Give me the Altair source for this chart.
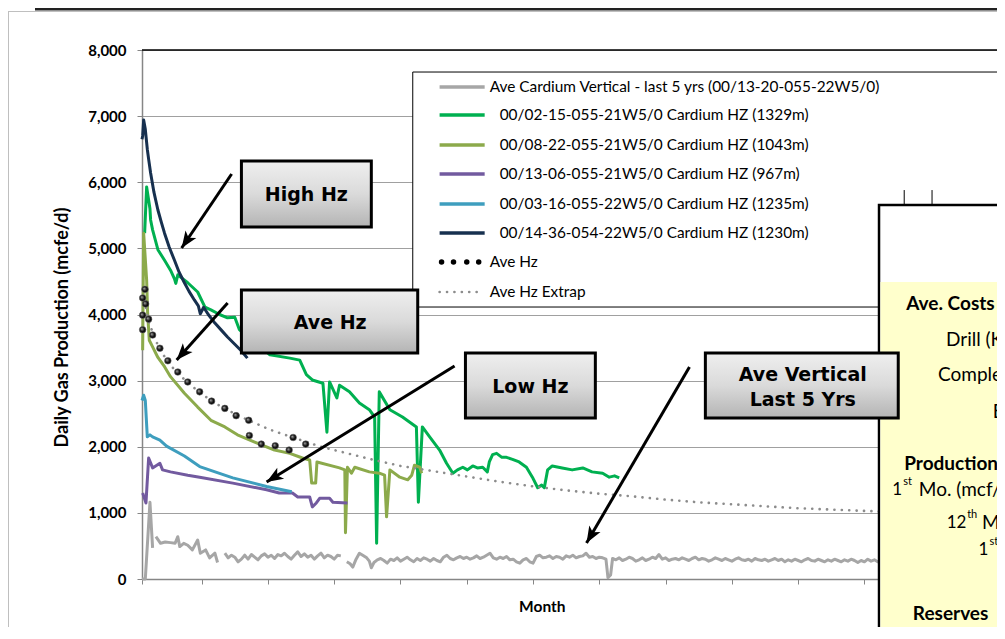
import math
import altair as alt
import pandas as pd

# ---------------- series data (month, mcfe/d) ----------------
gray_s1_m = [1.0, 1.5, 2.2, 2.6]
gray_s1_v = [0, 0, 1160, 470]
gray_s2_m = [3.1, 3.8, 4.5, 5.3, 6.0, 6.4, 6.7, 7.3, 7.9, 8.6, 9.4, 9.8, 10.6, 11.2, 12.0, 12.4]
gray_s2_v = [640, 540, 560, 550, 540, 640, 490, 540, 510, 440, 590, 390, 440, 320, 390, 250]
gray_s3_m = [13.5 + 0.5 * i for i in range(36)]
gray_s3_v = [390, 320, 360, 330, 260, 300, 360, 300, 370, 330,
             290, 350, 380, 330, 360, 310, 370, 350, 390, 340,
             300, 360, 410, 340, 380, 330, 360, 300, 350, 390,
             320, 360, 340, 300, 360, 350]
gray_s4a_m = [31.9, 32.4, 32.8, 33.3, 33.8, 34.3, 34.9, 35.3, 35.6]
gray_s4a_v = [260, 230, 180, 300, 390, 360, 320, 270, 170]
gray_s4b_m = [36.0 + 0.5 * i for i in range(71)]
gray_s4b_v = [250, 290, 310, 280, 240, 300, 280, 320, 270, 300,
              330, 290, 260, 310, 280, 320, 300, 270, 310, 280,
              260, 330, 360, 310, 290, 320, 340, 310, 330, 300,
              320, 350, 310, 330, 360, 390, 320, 300, 330, 310,
              340, 290, 300, 260, 240, 290, 310, 260, 240, 340,
              360, 320, 330, 350, 310, 340, 330, 300, 350, 330,
              360, 320, 340, 350, 390, 330, 340, 310, 330, 320,
              300]
gray_s4c_m = [71.3, 71.7]
gray_s4c_v = [20, 60]
gray_s4d_m = [72.0 + 0.5 * i for i in range(83)]
gray_s4d_v = [310, 290, 320, 280, 300, 330, 310, 270, 290, 320,
              280, 300, 330, 310, 370, 300, 320, 280, 300, 310,
              290, 320, 300, 280, 310, 330, 290, 310, 300, 270,
              290, 320, 300, 280, 310, 290, 270, 300, 320, 290,
              280, 300, 270, 310, 290, 280, 300, 270, 290, 310,
              280, 300, 260, 290, 270, 300, 280, 260, 290, 310,
              280, 270, 300, 280, 260, 290, 270, 300, 280, 260,
              290, 270, 300, 280, 250, 280, 260, 300, 270, 290,
              260, 280, 250]

green_m = [1.4, 1.7, 2.2, 2.3, 2.6, 3.4, 4.4, 5.3, 5.9, 6.1,
           6.4, 7.9, 9.4, 10.5, 11.4, 12.7, 13.9, 15.0, 15.7, 17.0,
           18.5, 20.3, 23.3, 24.8, 25.8, 26.7, 28.3, 28.9, 29.3, 30.4,
           30.8, 32.3, 33.8, 35.3, 36.1, 36.4, 36.8, 38.4, 40.3, 42.4,
           42.7, 43.3, 44.4, 45.9, 46.95, 47.9, 48.6, 49.4, 50.1, 50.9,
           51.6, 52.4, 53.1, 53.4, 53.9, 54.5, 55.3, 56.0, 56.9, 57.9,
           59.0, 59.9, 60.7, 61.3, 61.7, 62.2, 62.9, 64.4, 65.9, 67.5,
           68.9, 70.5, 71.5, 72.3, 73.0]
green_v = [5230, 5930, 5600, 5430, 5280, 4980, 4820, 4670, 4540, 4470,
           4600, 4480, 4340, 4110, 4070, 4000, 3950, 3960, 3770, 3650,
           3550, 3390, 3340, 3310, 3090, 3010, 2960, 2220, 2980, 2740,
           2930, 2830, 2660, 2560, 2450, 540, 2830, 2560, 2450, 2300,
           1160, 2300, 2150, 1950, 1750, 1600, 1650, 1690, 1650, 1710,
           1680, 1690, 1620, 1770, 1880, 1900, 1840, 1840, 1810, 1770,
           1690, 1540, 1380, 1420, 1380, 1650, 1710, 1680, 1650, 1680,
           1620, 1600, 1540, 1560, 1530]

olive_m = [1.1, 1.25, 1.7, 1.85, 2.1, 2.6, 3.4, 4.4, 5.3, 7.4,
           9.4, 11.4, 13.5, 15.4, 18.0, 21.0, 23.3, 25.2, 26.3, 26.6,
           27.2, 27.4, 30.8, 31.6, 31.7, 32.0, 32.6, 33.1, 35.3, 36.8,
           37.6, 37.9, 38.4, 39.9, 41.1, 41.7, 42.1, 42.9, 43.2]
olive_v = [3460, 5230, 4520, 4020, 3610, 3510, 3350, 3210, 3060, 2810,
           2600, 2400, 2300, 2180, 2070, 1950, 1900, 1830, 1800, 1450,
           1450, 1770, 1680, 1650, 700, 1690, 1600, 1690, 1620, 1600,
           1570, 940, 1650, 1540, 1500, 1570, 1720, 1690, 1600]

purple_m = [1.1, 1.6, 2.0, 2.6, 3.7, 4.1, 5.3, 7.9, 9.7, 14.7,
            19.8, 21.7, 23.7, 24.5, 26.3, 26.7, 27.3, 27.8, 29.3, 29.8, 32.0]
purple_v = [1300, 1150, 1830, 1680, 1750, 1650, 1620, 1570, 1540, 1450,
            1350, 1300, 1300, 1240, 1240, 1090, 1150, 1220, 1220, 1160, 1150]

teal_m = [1.0, 1.25, 1.5, 1.8, 2.2, 2.6, 3.7, 4.7, 7.4, 9.7, 14.7, 19.8, 23.6]
teal_v = [2700, 2780, 2700, 2150, 2180, 2150, 2100, 2010, 1860, 1700, 1530, 1400, 1320]

navy_m = [1.0, 1.1, 1.25, 1.5, 1.8, 2.0, 2.3, 2.8, 3.4, 3.9,
          4.4, 5.1, 5.9, 6.6, 7.4, 8.1, 8.9, 9.5, 9.8, 10.3,
          11.0, 12.0, 13.0, 13.9, 15.0, 15.9, 16.9]
navy_v = [6650, 6700, 6940, 6800, 6500, 6350, 6140, 5850, 5580, 5400,
          5230, 5020, 4820, 4640, 4480, 4350, 4220, 4130, 4010, 4110,
          4000, 3870, 3760, 3660, 3550, 3460, 3340]

avehz_m = [1.45, 1.1, 1.55, 1.1, 2.0, 1.1, 2.6, 3.7, 4.9, 6.4, 7.9, 9.7, 11.5,
           13.5, 15.2, 17.1, 17.2, 19.0, 21.1, 23.2, 23.8, 25.7]
avehz_v = [4380, 4250, 4160, 3990, 3930, 3770, 3690, 3490, 3300, 3130, 2980, 2830, 2690,
           2580, 2470, 2400, 2170, 2040, 2015, 1950, 2140, 2040]

extrap_m = [1.6, 2, 3, 4, 5, 6, 8, 10, 12, 14, 16, 18, 20, 22, 25, 28, 32, 36, 40, 45,
            50, 55, 60, 65, 70, 75, 80, 85, 90, 95, 100, 105, 110, 115, 120, 125, 131]
extrap_v = [4100, 3900, 3620, 3420, 3280, 3150, 2960, 2800, 2660, 2550, 2450, 2360, 2270,
            2200, 2100, 2000, 1900, 1800, 1710, 1630, 1550, 1470, 1400, 1340, 1290, 1250,
            1200, 1160, 1130, 1100, 1070, 1050, 1030, 1010, 990, 975, 960]

legend_labels = ["Ave Cardium Vertical - last 5 yrs (00/13-20-055-22W5/0)",
                 "00/02-15-055-21W5/0 Cardium HZ (1329m)",
                 "00/08-22-055-21W5/0 Cardium HZ (1043m)",
                 "00/13-06-055-21W5/0 Cardium HZ (967m)",
                 "00/03-16-055-22W5/0 Cardium HZ (1235m)",
                 "00/14-36-054-22W5/0 Cardium HZ (1230m)",
                 "Ave Hz", "Ave Hz Extrap"]
y_ticks = [0, 1000, 2000, 3000, 4000, 5000, 6000, 7000, 8000]
x_ticks = [1, 10, 20, 30, 40, 50, 60, 70, 80, 90, 100, 110, 120, 130]

# ---------------- styles ----------------
C_GRAY, C_GREEN, C_OLIVE = "#A6A6A6", "#00B050", "#8CAA4B"
C_PURPLE, C_TEAL, C_NAVY = "#725A9F", "#3E9EBE", "#17304F"
FONT = "Lato"
PLOT_W, PLOT_H = 855, 529
X_MAX = 130.0
PX_PER_M, PX_PER_V = PLOT_W / (X_MAX - 1), PLOT_H / 8000

XS = alt.Scale(domain=[1, X_MAX], nice=False, zero=False)
YS = alt.Scale(domain=[0, 8000], nice=False, zero=False)
XAX = alt.Axis(values=x_ticks, labels=False, title=None, grid=False, tickSize=5,
               tickColor="#868686", domainColor="#868686", domainWidth=1.5)
YAX = alt.Axis(values=y_ticks, format=",.0f", title="Daily Gas Production (mcfe/d)",
               titleFont=FONT, titleFontSize=18, titleFontWeight="bold", titleColor="black",
               titleAngle=270, titleX=-80, titleY=277, titleAlign="center", titleBaseline="middle",
               labelFont=FONT, labelFontSize=15, labelFontWeight="bold", labelColor="black",
               labelPadding=11, tickSize=5, tickColor="#868686", domainColor="#868686",
               domainWidth=1.5, grid=True, gridColor="#A0A0A0", gridWidth=1)


def X(f="m"):
    return alt.X(f"{f}:Q", scale=XS, axis=XAX)


def Y(f="v"):
    return alt.Y(f"{f}:Q", scale=YS, axis=YAX)


def line_layer(ms, vs, color, segs=None, width=3, **kw):
    df = pd.DataFrame({"m": ms, "v": vs, "s": segs if segs else [0] * len(ms)})
    return alt.Chart(df).mark_line(color=color, strokeWidth=width, strokeJoin="round", **kw).encode(
        x=X(), y=Y(), detail="s:N")


def rect(m1, m2, v1, v2, **kw):
    df = pd.DataFrame({"m": [m1], "m2": [m2], "v": [v1], "v2": [v2]})
    return alt.Chart(df).mark_rect(**kw).encode(x=X("m"), x2="m2", y=Y("v"), y2="v2")


def seg(m1, v1, m2, v2, **kw):
    df = pd.DataFrame({"m": [m1], "m2": [m2], "v": [v1], "v2": [v2]})
    return alt.Chart(df).mark_rule(**kw).encode(x=X("m"), x2="m2", y=Y("v"), y2="v2")


def label(t, m, v, size, bold=False, align="left", font=FONT):
    df = pd.DataFrame({"m": [m], "v": [v], "t": [t]})
    return alt.Chart(df).mark_text(font=font, fontSize=size, fontWeight="bold" if bold else "normal",
                                   align=align, baseline="middle", color="black").encode(
        x=X(), y=Y(), text="t:N")


one = pd.DataFrame({"a": [0]})
layers = []

# outer frame decorations
layers.append(alt.Chart(one).mark_rect(color="#222222").encode(
    x=alt.value(-107), x2=alt.value(870), y=alt.value(-42), y2=alt.value(-39.5)))
layers.append(alt.Chart(one).mark_rule(color="#BFBFBF", strokeWidth=1).encode(
    x=alt.value(-134), x2=alt.value(870), y=alt.value(-38.5)))
layers.append(alt.Chart(one).mark_rule(color="#BFBFBF", strokeWidth=1).encode(
    x=alt.value(-133.5), y=alt.value(-38.5), y2=alt.value(600)))

# plot top border
layers.append(seg(1, 8000, X_MAX, 8000, color="black", strokeWidth=1.5))

# series
gray_m = gray_s1_m + gray_s2_m + gray_s3_m + gray_s4a_m + gray_s4b_m + gray_s4c_m + gray_s4d_m
gray_v = gray_s1_v + gray_s2_v + gray_s3_v + gray_s4a_v + gray_s4b_v + gray_s4c_v + gray_s4d_v
gray_seg = ([1] * len(gray_s1_m) + [2] * len(gray_s2_m) + [3] * len(gray_s3_m)
            + [4] * (len(gray_s4a_m) + len(gray_s4b_m) + len(gray_s4c_m) + len(gray_s4d_m)))
layers.append(line_layer(gray_m, gray_v, C_GRAY, gray_seg))
layers.append(line_layer(green_m, green_v, C_GREEN))
layers.append(line_layer(olive_m, olive_v, C_OLIVE))
layers.append(line_layer(purple_m, purple_v, C_PURPLE))
layers.append(line_layer(teal_m, teal_v, C_TEAL))
layers.append(line_layer(navy_m, navy_v, C_NAVY))
layers.append(line_layer(extrap_m, extrap_v, "#8C8C8C", width=2.6, strokeDash=[0.1, 7.3], strokeCap="round"))

dot_fill = alt.RadialGradient(gradient="radial",
                              stops=[alt.GradientStop(color="#B0B0B0", offset=0),
                                     alt.GradientStop(color="#111111", offset=0.6),
                                     alt.GradientStop(color="#000000", offset=1)],
                              x1=0.35, y1=0.35, r1=0, x2=0.5, y2=0.5, r2=0.55)
layers.append(alt.Chart(pd.DataFrame({"m": avehz_m, "v": avehz_v})).mark_circle(
    fill=dot_fill, opacity=1, size=44, stroke="#666666", strokeWidth=0.6).encode(x=X(), y=Y()))

# legend
layers.append(rect(41.85, 136, 4113, 7667, fill="white", stroke="black", strokeWidth=1))
row_v = [7440, 7017, 6563, 6125, 5671, 5232, 4794, 4340]
row_colors = [C_GRAY, C_GREEN, C_OLIVE, C_PURPLE, C_TEAL, C_NAVY]
for i, c in enumerate(row_colors):
    layers.append(seg(45.9, row_v[i], 52.7, row_v[i], color=c, strokeWidth=3.5))
layers.append(alt.Chart(pd.DataFrame({"m": [46.2, 48.0, 50.0, 51.8], "v": [row_v[6]] * 4})).mark_circle(
    color="black", opacity=1, size=30).encode(x=X(), y=Y()))
layers.append(seg(45.9, row_v[7], 52.4, row_v[7], color="#8C8C8C", strokeWidth=2.6,
                  strokeDash=[0.1, 7.3], strokeCap="round"))
for i, t in enumerate(legend_labels):
    tx = 53.45 if i in (0, 6, 7) else 54.96
    layers.append(label(t, tx, row_v[i], 15.4))

# right-hand summary panel (cut off at the window edge)
layers.append(rect(112.2, 140, -1100, 5656, fill="white", stroke="black", strokeWidth=2.5))
layers.append(rect(112.42, 140, -1100, 4491, fill="#FFFFCC"))
layers.append(seg(116.0, 5656, 116.0, 5882, color="black", strokeWidth=1))
layers.append(seg(120.2, 5656, 120.2, 5882, color="black", strokeWidth=1))
panel = [("Ave. Costs", 116.3, 4159, 19, True), ("Drill (K$)", 122.3, 3614, 19, False),
         ("Completion (K$)", 121.1, 3085, 19, False), ("E/T (K$)", 129.35, 2530, 19, False),
         ("Production", 116.0, 1739, 19, True),
         ("1", 114.2, 1346, 17, False), ("st", 115.85, 1471, 11, False), ("Mo. (mcf/d)", 118.2, 1346, 19, False),
         ("12", 122.4, 842, 17, False), ("th", 125.5, 968, 11, False), ("Mo. (mcf/d)", 127.75, 842, 19, False),
         ("1", 127.2, 439, 17, False), ("st", 128.85, 564, 11, False),
         ("Reserves", 117.3, -529, 19, True)]
for t, m, v, s, b in panel:
    layers.append(label(t, m, v, s, bold=b))

# annotation boxes
box_fill = alt.LinearGradient(gradient="linear",
                              stops=[alt.GradientStop(color="#EFEFEF", offset=0),
                                     alt.GradientStop(color="#DADADA", offset=0.5),
                                     alt.GradientStop(color="#B4B4B4", offset=1)],
                              x1=0, y1=0, x2=0, y2=1)
boxes = [(16.0, 35.6, 5323, 6321), (16.0, 42.6, 3418, 4370),
         (49.8, 69.4, 2435, 3418), (86.0, 115.1, 2435, 3418)]
for m1, m2, v1, v2 in boxes:
    layers.append(rect(m1, m2, v1, v2, fill=box_fill, stroke="black", strokeWidth=3))
box_texts = [("High Hz", 25.8, 5807), ("Ave Hz", 29.4, 3871), ("Low Hz", 59.6, 2903),
             ("Ave Vertical", 100.7, 3085), ("Last 5 Yrs", 100.7, 2707)]
for t, m, v in box_texts:
    layers.append(label(t, m, v, 19, bold=True, align="center", font="DejaVu Sans"))

# arrows
arrows = [(14.52, 6125, 6.98, 5006), (13.92, 4174, 6.23, 3312),
          (48.16, 3221, 19.80, 1467), (83.60, 3206, 68.07, 544)]
head = "M0,0L0.55,1.4L0,1.05L-0.55,1.4Z"
for m1, v1, m2, v2 in arrows:
    layers.append(seg(m1, v1, m2, v2, color="black", strokeWidth=3))
    dx = (m2 - m1) * PX_PER_M
    dy = -(v2 - v1) * PX_PER_V
    ang = math.degrees(math.atan2(dx, -dy)) % 360
    layers.append(alt.Chart(pd.DataFrame({"m": [m2], "v": [v2]})).mark_point(
        shape=head, angle=ang, size=560, filled=True, color="black", opacity=1).encode(x=X(), y=Y()))

# x-axis title
layers.append(label("Month", 61.4, -423, 15.5, bold=True, align="center"))

chart = alt.layer(*layers).properties(
    width=PLOT_W, height=PLOT_H,
    padding={"left": 134, "top": 42, "right": 0, "bottom": 48},
    autosize=alt.AutoSizeParams(type="none"),
    background="white",
).configure_view(stroke=None)

chart.save("out.html", embed_options={"renderer": "svg", "actions": False})
